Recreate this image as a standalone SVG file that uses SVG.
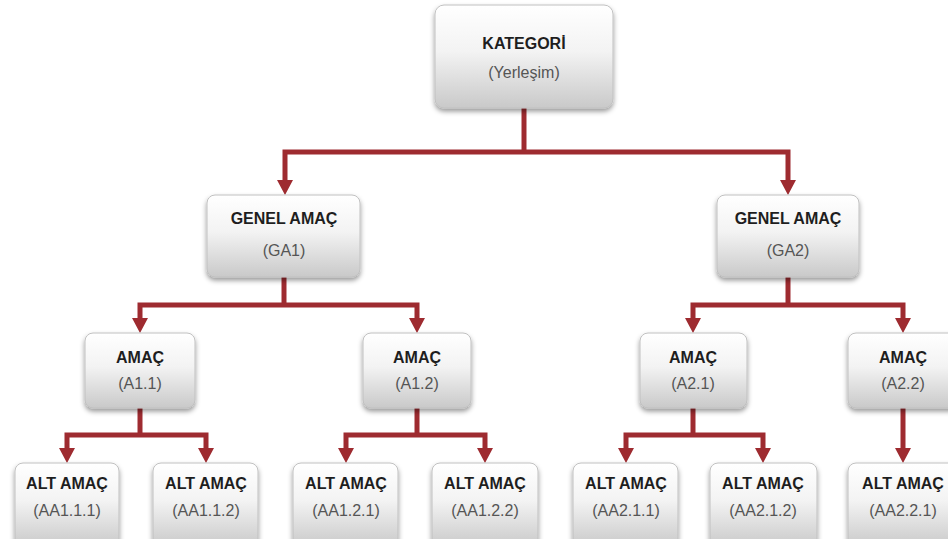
<svg xmlns="http://www.w3.org/2000/svg" width="948" height="539" viewBox="0 0 948 539">
<defs>
<linearGradient id="bg" x1="0" y1="0" x2="0" y2="1">
<stop offset="0" stop-color="#ffffff"/>
<stop offset="0.45" stop-color="#f3f3f3"/>
<stop offset="1" stop-color="#c9c9c9"/>
</linearGradient>
<filter id="sh" x="-20%" y="-20%" width="140%" height="150%">
<feDropShadow dx="0" dy="3" stdDeviation="2.5" flood-color="#000" flood-opacity="0.4"/>
</filter>
<style>
.box{fill:url(#bg);stroke:#c0c0c0;stroke-width:1;filter:url(#sh)}
.t{font-family:"Liberation Sans",Arial,sans-serif;font-weight:bold;font-size:16px;fill:#1e1e1e;text-anchor:middle}
.s{font-family:"Liberation Sans",Arial,sans-serif;font-size:16px;fill:#555555;text-anchor:middle}
.c{fill:none;stroke:#9e2b30;stroke-width:5;stroke-linejoin:miter}
</style>
</defs>
<rect width="948" height="539" fill="#ffffff"/>
<g id="connectors">
<path class="c" d="M524,108 V152"/>
<path class="c" d="M524,152 H285 V181"/>
<path class="c" d="M524,152 H788 V181"/>
<path class="c" d="M284,277 V305"/>
<path class="c" d="M284,305 H140 V319"/>
<path class="c" d="M284,305 H417 V319"/>
<path class="c" d="M788,277 V305"/>
<path class="c" d="M788,305 H693 V319"/>
<path class="c" d="M788,305 H903 V319"/>
<path class="c" d="M140,408 V435"/>
<path class="c" d="M140,435 H67 V449"/>
<path class="c" d="M140,435 H206 V449"/>
<path class="c" d="M417,408 V435"/>
<path class="c" d="M417,435 H346 V449"/>
<path class="c" d="M417,435 H485 V449"/>
<path class="c" d="M693,408 V435"/>
<path class="c" d="M693,435 H626 V449"/>
<path class="c" d="M693,435 H763 V449"/>
<path class="c" d="M903,408 V449"/>
<g fill="#9e2b30">
<path d="M277,180 H293 L285,195 Z"/>
<path d="M780,180 H796 L788,195 Z"/>
<path d="M132,318 H148 L140,333 Z"/>
<path d="M409,318 H425 L417,333 Z"/>
<path d="M685,318 H701 L693,333 Z"/>
<path d="M895,318 H911 L903,333 Z"/>
<path d="M59,448 H75 L67,463 Z"/>
<path d="M198,448 H214 L206,463 Z"/>
<path d="M338,448 H354 L346,463 Z"/>
<path d="M477,448 H493 L485,463 Z"/>
<path d="M618,448 H634 L626,463 Z"/>
<path d="M755,448 H771 L763,463 Z"/>
<path d="M895,448 H911 L903,463 Z"/>
</g>
</g>
<g id="kategori"><rect class="box" x="435" y="5" width="178" height="103" rx="9"/><text class="t" x="524" y="49">KATEGORİ</text><text class="s" x="524" y="78">(Yerleşim)</text></g>
<g id="ga1"><rect class="box" x="207" y="195" width="153" height="82" rx="8"/><text class="t" x="284" y="224">GENEL AMAÇ</text><text class="s" x="284" y="256">(GA1)</text></g>
<g id="ga2"><rect class="box" x="717" y="195" width="142" height="82" rx="8"/><text class="t" x="788" y="224">GENEL AMAÇ</text><text class="s" x="788" y="256">(GA2)</text></g>
<g id="a11"><rect class="box" x="85" y="333" width="110" height="75" rx="8"/><text class="t" x="140" y="363">AMAÇ</text><text class="s" x="140" y="389">(A1.1)</text></g>
<g id="a12"><rect class="box" x="363" y="333" width="108" height="75" rx="8"/><text class="t" x="417" y="363">AMAÇ</text><text class="s" x="417" y="389">(A1.2)</text></g>
<g id="a21"><rect class="box" x="640" y="333" width="107" height="75" rx="8"/><text class="t" x="693" y="363">AMAÇ</text><text class="s" x="693" y="389">(A2.1)</text></g>
<g id="a22"><rect class="box" x="848" y="333" width="110" height="75" rx="8"/><text class="t" x="903" y="363">AMAÇ</text><text class="s" x="903" y="389">(A2.2)</text></g>
<g id="aa111"><rect class="box" x="15" y="463" width="104" height="84" rx="8"/><text class="t" x="67" y="489">ALT AMAÇ</text><text class="s" x="67" y="516">(AA1.1.1)</text></g>
<g id="aa112"><rect class="box" x="153" y="463" width="105" height="84" rx="8"/><text class="t" x="206" y="489">ALT AMAÇ</text><text class="s" x="206" y="516">(AA1.1.2)</text></g>
<g id="aa121"><rect class="box" x="293" y="463" width="105" height="84" rx="8"/><text class="t" x="346" y="489">ALT AMAÇ</text><text class="s" x="346" y="516">(AA1.2.1)</text></g>
<g id="aa122"><rect class="box" x="432" y="463" width="106" height="84" rx="8"/><text class="t" x="485" y="489">ALT AMAÇ</text><text class="s" x="485" y="516">(AA1.2.2)</text></g>
<g id="aa211"><rect class="box" x="573" y="463" width="105" height="84" rx="8"/><text class="t" x="626" y="489">ALT AMAÇ</text><text class="s" x="626" y="516">(AA2.1.1)</text></g>
<g id="aa212"><rect class="box" x="710" y="463" width="107" height="84" rx="8"/><text class="t" x="763" y="489">ALT AMAÇ</text><text class="s" x="763" y="516">(AA2.1.2)</text></g>
<g id="aa221"><rect class="box" x="848" y="463" width="110" height="84" rx="8"/><text class="t" x="903" y="489">ALT AMAÇ</text><text class="s" x="903" y="516">(AA2.2.1)</text></g>
</svg>
